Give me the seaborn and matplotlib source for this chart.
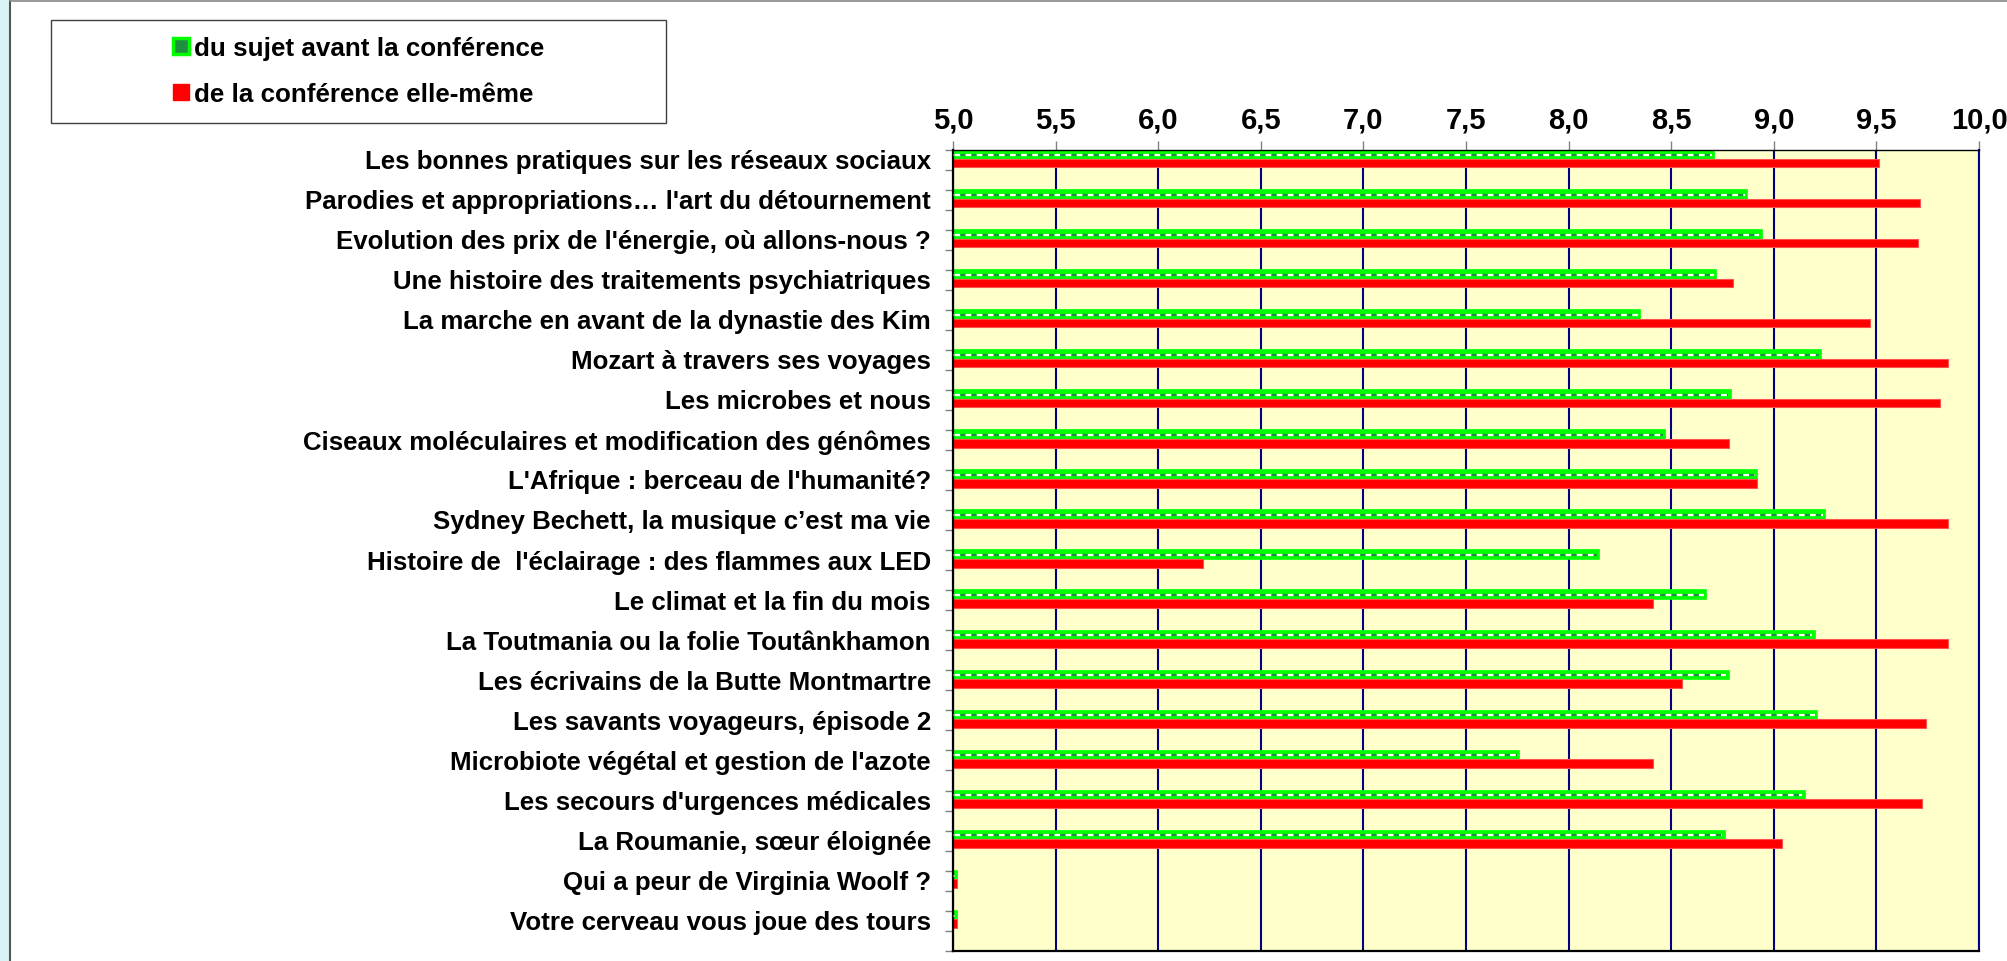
import matplotlib
matplotlib.use("Agg")
from matplotlib import pyplot as plt
from matplotlib.patches import Rectangle, Patch
from matplotlib.lines import Line2D
import pandas as pd
import seaborn as sns

# donnees
conferences = [
    "Les bonnes pratiques sur les réseaux sociaux",
    "Parodies et appropriations… l'art du détournement",
    "Evolution des prix de l'énergie, où allons-nous ?",
    "Une histoire des traitements psychiatriques",
    "La marche en avant de la dynastie des Kim",
    "Mozart à travers ses voyages",
    "Les microbes et nous",
    "Ciseaux moléculaires et modification des génômes",
    "L'Afrique : berceau de l'humanité?",
    "Sydney Bechett, la musique c’est ma vie",
    "Histoire de  l'éclairage : des flammes aux LED",
    "Le climat et la fin du mois",
    "La Toutmania ou la folie Toutânkhamon",
    "Les écrivains de la Butte Montmartre",
    "Les savants voyageurs, épisode 2",
    "Microbiote végétal et gestion de l'azote",
    "Les secours d'urgences médicales",
    "La Roumanie, sœur éloignée",
    "Qui a peur de Virginia Woolf ?",
    "Votre cerveau vous joue des tours",
]
note_sujet = [8.71, 8.87, 8.94, 8.72, 8.35, 9.23, 8.79, 8.47, 8.92, 9.25,
              8.15, 8.67, 9.20, 8.78, 9.21, 7.76, 9.15, 8.76, 5.02, 5.02]
note_conf = [9.51, 9.71, 9.70, 8.80, 9.47, 9.85, 9.81, 8.78, 8.92, 9.85,
             6.22, 8.41, 9.85, 8.55, 9.74, 8.41, 9.72, 9.04, 5.02, 5.02]
series = ["du sujet avant la conférence", "de la conférence elle-même"]
x_ticks = [5.0, 5.5, 6.0, 6.5, 7.0, 7.5, 8.0, 8.5, 9.0, 9.5, 10.0]
x_labels = ["5,0", "5,5", "6,0", "6,5", "7,0", "7,5", "8,0", "8,5", "9,0", "9,5", "10,0"]

n = len(conferences)
df = pd.DataFrame({
    "conference": conferences * 2,
    "note": note_sujet + note_conf,
    "serie": [series[0]] * n + [series[1]] * n,
})

sns.set_style("white")
plt.rcParams['font.family'] = ['Liberation Sans', 'DejaVu Sans']
plt.rcParams['font.weight'] = 'bold'
plt.rcParams['text.color'] = 'black'
plt.rcParams['xtick.labelcolor'] = 'black'
plt.rcParams['ytick.labelcolor'] = 'black'

VERT = "#00FF00"
VERT_FONCE = "#1e9040"
ROUGE = "#FF0000"

fig = plt.figure(figsize=(20.08, 9.62), dpi=100)
ax = fig.add_axes([0.4746, 0.0107, 0.5110, 0.8326])

sns.barplot(data=df, x="note", y="conference", hue="serie", orient="h",
            palette=[VERT, ROUGE], width=0.43, saturation=1, errorbar=None,
            legend=False, ax=ax)

for p in ax.containers[0]:
    p.set_edgecolor(VERT)
    p.set_linewidth(1.2)
for p in ax.containers[1]:
    p.set_edgecolor("#ff5050")
    p.set_linewidth(0.8)

# ligne pointillee au milieu des barres vertes (motif Excel)
for p in ax.containers[0]:
    y = p.get_y() + p.get_height() * 0.55
    ax.plot([p.get_x(), p.get_x() + p.get_width() - 0.012], [y, y],
            color="white", linestyle=(0, (2.5, 2.5)), gapcolor=VERT_FONCE,
            linewidth=1.6, dash_capstyle="butt", solid_capstyle="butt", zorder=3)

ax.set_xlim(5, 10)
ax.set_ylim(n - 0.22, -0.22)
ax.set_facecolor("#FFFFCC")
ax.set_axisbelow(True)
ax.grid(axis="x", color="#000080", linewidth=1.5)
ax.grid(axis="y", visible=False)
ax.set_xlabel("")
ax.set_ylabel("")

ax.xaxis.tick_top()
ax.set_xticks(x_ticks)
ax.set_xticklabels(x_labels, fontsize=21, fontweight="bold")
ax.tick_params(axis="x", length=6.5, width=1, color="#808080", pad=5)

ax.set_yticks(range(n))
ax.set_yticklabels(conferences, fontsize=18.6, fontweight="bold")
ax.tick_params(axis="y", which="major", length=0, pad=16)
ax.set_yticks([-0.22 + 0.5 * k for k in range(2 * n + 1)], minor=True)
ax.tick_params(axis="y", which="minor", left=True, length=6, width=1, color="#808080")

for s in ["left", "bottom"]:
    ax.spines[s].set_color("black")
    ax.spines[s].set_linewidth(1.6)
ax.spines["top"].set_color("black")
ax.spines["top"].set_linewidth(1)
ax.spines["right"].set_color("#000080")
ax.spines["right"].set_linewidth(1.5)

# legende
handles = [Patch(facecolor=VERT_FONCE, edgecolor=VERT, linewidth=2.5),
           Patch(facecolor=ROUGE, edgecolor=ROUGE)]
fig.legend(handles, series, loc="center", bbox_to_anchor=(358.5 / 2008, 1 - 72 / 962),
           frameon=False, prop={"size": 18.7, "weight": "bold"},
           handlelength=0.6, handleheight=0.6, handletextpad=0.2, labelspacing=0.85)
fig.add_artist(Rectangle((51 / 2008, 1 - 124 / 962), 615 / 2008, 103.5 / 962,
                         transform=fig.transFigure, fill=False,
                         edgecolor="#404040", linewidth=1))

# cadre exterieur du graphique
fig.add_artist(Rectangle((0, 0), 10 / 2008, 1, transform=fig.transFigure,
                         facecolor="#d8f4f4", edgecolor="none"))
fig.add_artist(Line2D([10.5 / 2008, 10.5 / 2008], [0, 1 - 2 / 962],
                      transform=fig.transFigure, color="#555555", linewidth=1.5))
fig.add_artist(Line2D([10.5 / 2008, 1], [1 - 2 / 962, 1 - 2 / 962],
                      transform=fig.transFigure, color="#888888", linewidth=1.2))

fig.savefig("out.png", dpi=100, facecolor="white")
